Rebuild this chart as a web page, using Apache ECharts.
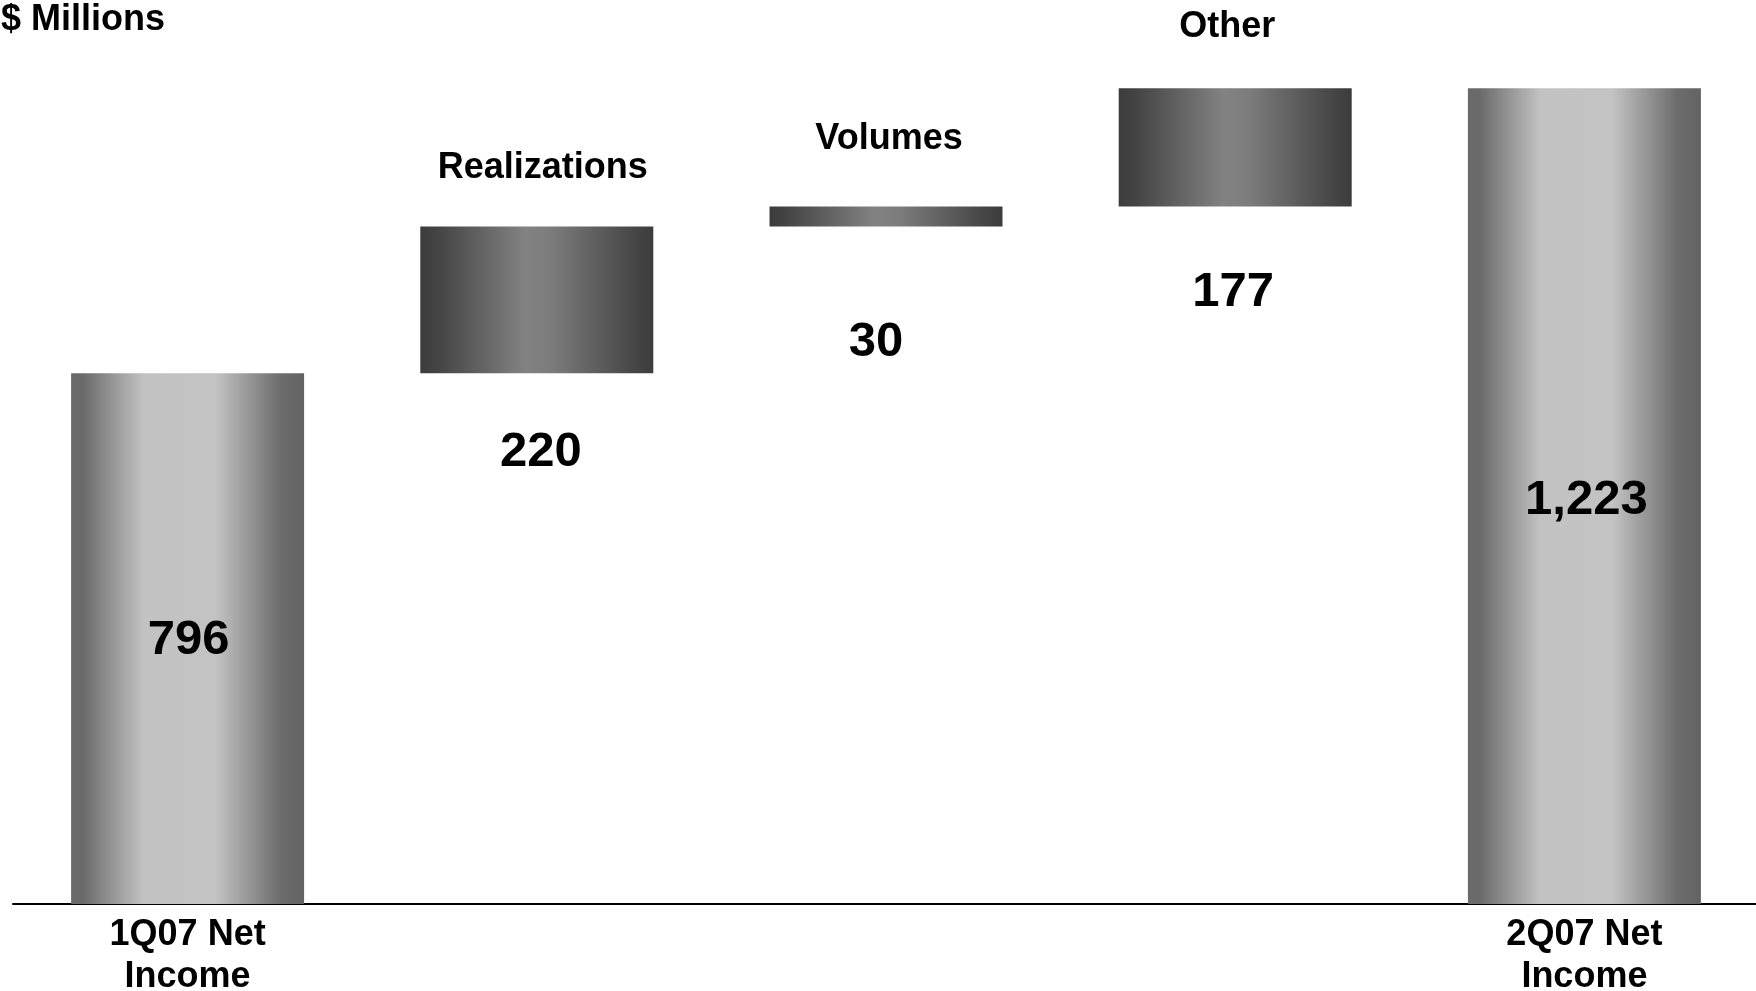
<!DOCTYPE html>
<html style="height: 100%">

<head>
    <meta charset="utf-8">
    <script src="https://cdn.jsdelivr.net/npm/echarts@6/dist/echarts.min.js"></script>
</head>

<body style="height: 100%; margin: 0; background: #fff">
    <div id="chart" style="width: 1756px; height: 991px"></div>
    <script type="text/javascript">
        // waterfall: 1Q07 -> 2Q07 net income, $ millions
        var categories = ['1Q07 Net\nIncome', 'Realizations', 'Volumes', 'Other', '2Q07 Net\nIncome'];
        var values = [796, 220, 30, 177, 1223];
        var isTotal = [true, false, false, false, true];
        var valueLabels = ['796', '220', '30', '177', '1,223'];

        var font = "'Liberation Sans', Arial, sans-serif";

        var totalFill = {
            type: 'linear', x: 0, y: 0, x2: 1, y2: 0,
            colorStops: [
                { offset: 0, color: '#6a6a6a' },
                { offset: 0.05, color: '#6a6a6a' },
                { offset: 0.31, color: '#c2c2c2' },
                { offset: 0.62, color: '#c3c3c3' },
                { offset: 0.9, color: '#6c6c6c' },
                { offset: 1, color: '#636363' }
            ]
        };
        var stepFill = {
            type: 'linear', x: 0, y: 0, x2: 1, y2: 0,
            colorStops: [
                { offset: 0, color: '#3c3c3c' },
                { offset: 0.08, color: '#454545' },
                { offset: 0.45, color: '#828282' },
                { offset: 0.56, color: '#7c7c7c' },
                { offset: 0.92, color: '#464646' },
                { offset: 1, color: '#3c3c3c' }
            ]
        };

        // label placement tweaks (distance from bar edge, x/y nudge)
        var nameDist = [0, 40, 49, 43, 0];
        var nameNudge = [0, 6, 3, -8, 0];
        var valueDist = [0, 55, 92, 62, 0];
        var valueNudge = [[1, 2], [4, 0], [-10, 0], [-2, 0], [2, 4]];

        var base = [];
        var shown = [];
        var running = 0;
        for (var i = 0; i < values.length; i++) {
            if (isTotal[i]) {
                base.push({ value: 0, label: { show: false } });
                shown.push({
                    value: values[i],
                    itemStyle: { color: totalFill },
                    label: {
                        show: true, position: 'inside', offset: valueNudge[i],
                        formatter: valueLabels[i], fontSize: 49
                    }
                });
                running = values[i];
            } else {
                base.push({
                    value: running,
                    label: {
                        show: true, position: 'insideTop', distance: valueDist[i],
                        offset: valueNudge[i],
                        formatter: valueLabels[i], fontSize: 49
                    }
                });
                shown.push({
                    value: values[i],
                    itemStyle: { color: stepFill },
                    label: {
                        show: true, position: 'top', distance: nameDist[i],
                        offset: [nameNudge[i], 0],
                        formatter: categories[i], fontSize: 36
                    }
                });
                running += values[i];
            }
        }

        var myChart = echarts.init(document.getElementById('chart'));
        myChart.setOption({
            animation: false,
            textStyle: { fontFamily: font },
            title: {
                text: '$ Millions',
                left: -4, top: -3,
                textStyle: { fontSize: 36, fontWeight: 'bold', color: '#000', fontFamily: font }
            },
            grid: { left: 13, right: -3, top: 37, bottom: 87, outerBoundsMode: 'none', containLabel: false },
            xAxis: {
                type: 'category',
                data: categories,
                axisLine: { lineStyle: { color: '#000', width: 2 } },
                axisTick: { show: false },
                axisLabel: {
                    interval: 0, margin: 10,
                    fontSize: 36, fontWeight: 'bold', color: '#000', lineHeight: 42,
                    formatter: function (v, idx) { return isTotal[idx] ? v : ''; }
                }
            },
            yAxis: {
                type: 'value', min: 0, max: 1300,
                show: false, splitLine: { show: false }
            },
            series: [{
                type: 'bar', stack: 'w', barWidth: 233,
                itemStyle: { color: 'rgba(0,0,0,0)' },
                label: { color: '#000', fontWeight: 'bold', fontFamily: font },
                emphasis: { disabled: true },
                data: base
            }, {
                type: 'bar', stack: 'w', barWidth: 233,
                label: { color: '#000', fontWeight: 'bold', fontFamily: font },
                emphasis: { disabled: true },
                data: shown
            }]
        });
    </script>
</body>

</html>
